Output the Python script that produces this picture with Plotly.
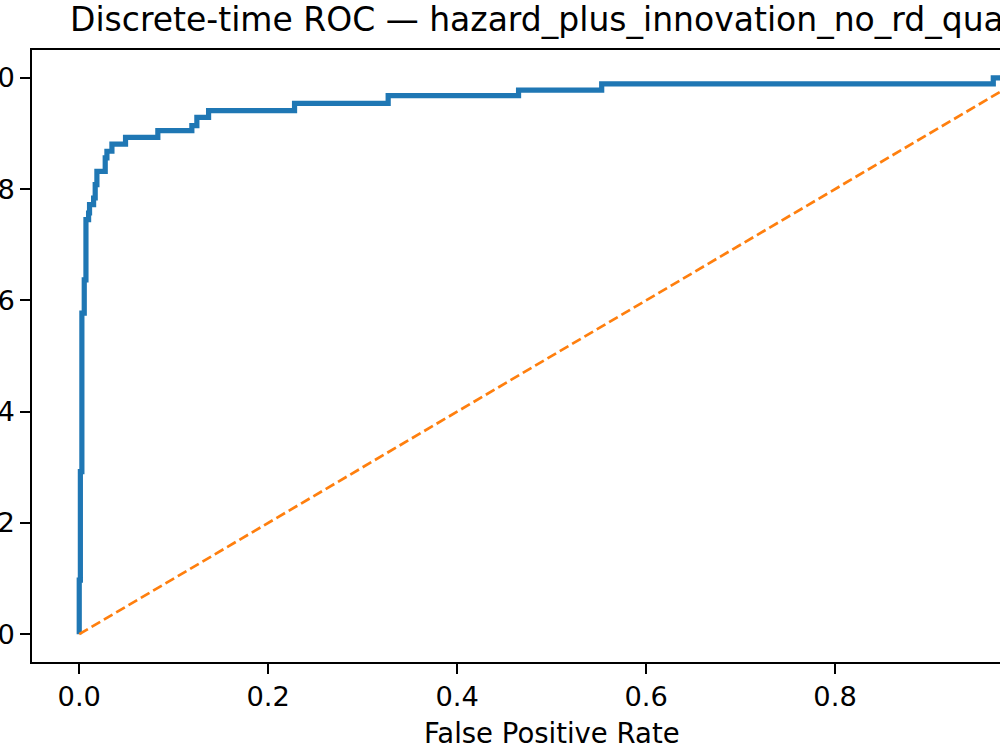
import plotly.graph_objects as go

# ROC curve corners (drawn with vertical-then-horizontal steps)
fpr = [0, 0.0012, 0.0028, 0.0053, 0.0071, 0.0099, 0.0109, 0.0152, 0.0169, 0.0187,
       0.0275, 0.0293, 0.0346, 0.049, 0.0832, 0.1192, 0.1245, 0.1369, 0.2279,
       0.327, 0.465, 0.553, 0.9675, 1.0]
tpr = [0, 0.097, 0.292, 0.577, 0.637, 0.745, 0.757, 0.772, 0.784, 0.808,
       0.832, 0.856, 0.868, 0.881, 0.893, 0.905, 0.914, 0.929, 0.941,
       0.954, 0.968, 0.978, 0.989, 1.0]
chance_x = [0, 1]
chance_y = [0, 1]
xticks = [0.0, 0.2, 0.4, 0.6, 0.8, 1.0]
yticks = [0.0, 0.2, 0.4, 0.6, 0.8, 1.0]
title_text = "Discrete-time ROC — hazard_plus_innovation_no_rd_quality"
xlabel = "False Positive Rate"

FONT = "DejaVu Sans"

fig = go.Figure()
fig.add_trace(go.Scatter(x=fpr, y=tpr, mode="lines", line_shape="vh",
                         line=dict(color="#1f77b4", width=5.2), showlegend=False))
fig.add_trace(go.Scatter(x=chance_x, y=chance_y, mode="lines",
                         line=dict(color="#ff7f0e", width=2.7, dash="10px,4.3px"),
                         showlegend=False))

L, T, B = 32, 50, 88
W, H = 1000, 750
fig.update_layout(
    width=W, height=H,
    margin=dict(l=L, r=0, t=T, b=B, pad=0),
    plot_bgcolor="white", paper_bgcolor="white",
    font=dict(family=FONT, size=27, color="black"),
    xaxis=dict(range=[-0.05, 0.9746], tickvals=xticks, ticktext=[f"{v:.1f}" for v in xticks],
               automargin=False,
               showgrid=False, zeroline=False, showline=True, linecolor="black", linewidth=2.2,
               mirror=True, ticks="outside", ticklen=9.5, tickwidth=2.2, tickcolor="black",
               tickfont=dict(family=FONT, size=27.3, color="black")),
    yaxis=dict(range=[-0.05, 1.05], tickvals=yticks, ticktext=[f"{v:.1f}" for v in yticks],
               automargin=False,
               showgrid=False, zeroline=False, showline=True, linecolor="black", linewidth=2.2,
               mirror=False, ticks="outside", ticklen=9.5, tickwidth=2.2, tickcolor="black",
               tickfont=dict(family=FONT, size=27.3, color="black")),
)

plot_w = W - L
fig.add_annotation(text=title_text, xref="paper", yref="paper",
                   x=(68 - L) / plot_w, y=1 + (T - 20) / (H - T - B),
                   xanchor="left", yanchor="middle", showarrow=False,
                   font=dict(family=FONT, size=33.0, color="black"))
fig.add_annotation(text=xlabel, xref="x", yref="paper", x=0.5,
                   y=-(732.7 - (H - B)) / (H - T - B),
                   xanchor="center", yanchor="middle", showarrow=False,
                   font=dict(family=FONT, size=27.5, color="black"))

fig.write_html("out.html")
